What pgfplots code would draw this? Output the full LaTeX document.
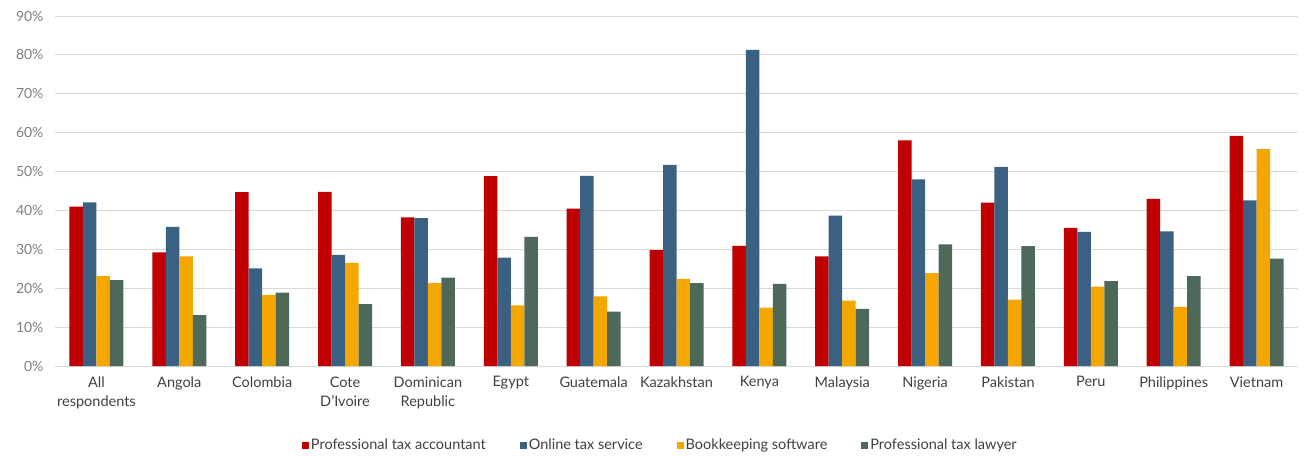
\documentclass[border=0pt]{standalone}
\usepackage{pgfplots}
\pgfplotsset{compat=1.18}
\usepackage{fontspec}
\setmainfont{Lato}
\definecolor{cRed}{HTML}{C00000}
\definecolor{cBlue}{HTML}{3B6182}
\definecolor{cOrange}{HTML}{F4A700}
\definecolor{cGreen}{HTML}{4E695A}
\definecolor{gridc}{HTML}{D9D9D9}
\definecolor{ytick}{HTML}{7F7F7F}
\definecolor{xtick}{HTML}{404040}
\begin{document}
\begin{tikzpicture}[x=1pt,y=1pt]
\path[use as bounding box] (0,0) rectangle (1310,456);
\begin{axis}[
  at={(55pt,90pt)}, anchor=south west,
  scale only axis, width=1243pt, height=350pt,
  ybar=0pt, bar width=13.5pt,
  xmin=-0.5, xmax=14.5, ymin=0, ymax=90,
  xtick=data,
  xticklabels={{All\\respondents},Angola,Colombia,{Cote\\D'Ivoire},{Dominican\\Republic},Egypt,Guatemala,Kazakhstan,Kenya,Malaysia,Nigeria,Pakistan,Peru,Philippines,Vietnam},
  xticklabel style={align=center, font=\fontsize{14.5}{19.5}\selectfont, text=xtick, yshift=-7pt},
  ytick={0,10,...,90},
  yticklabel={\pgfmathprintnumber{\tick}\%},
  /pgf/number format/assume math mode=true,
  yticklabel style={font=\fontsize{14}{16}\selectfont, text=ytick, xshift=-8pt},
  ymajorgrids, grid style={gridc, line width=0.8pt},
  axis x line=bottom, axis y line=left,
  x axis line style={gridc, line width=0.8pt, -},
  y axis line style={draw=none},
  major tick length=0pt,
  legend style={at={(0.487,0)}, anchor=center, yshift=-79pt, draw=none, font=\fontsize{14.5}{17}\selectfont, text=xtick, legend columns=4, /tikz/every even column/.append style={column sep=32pt}, inner sep=0pt},
  legend cell align=left,
  clip=false,
]
\addplot[fill=cRed, draw=none, legend image code/.code={\fill[cRed] (0pt,-3.5pt) rectangle (7pt,3.5pt);}] coordinates {
(0,41.0) (1,29.2) (2,44.7) (3,44.8) (4,38.2) (5,48.8) (6,40.5) (7,29.8) (8,30.9) (9,28.2) (10,58.0) (11,42.0) (12,35.5) (13,43.0) (14,59.2)};
\addplot[fill=cBlue, draw=none, legend image code/.code={\fill[cBlue] (0pt,-3.5pt) rectangle (7pt,3.5pt);}] coordinates {
(0,42.1) (1,35.8) (2,25.1) (3,28.6) (4,38.0) (5,27.9) (6,48.9) (7,51.7) (8,81.3) (9,38.7) (10,48.0) (11,51.2) (12,34.5) (13,34.6) (14,42.6)};
\addplot[fill=cOrange, draw=none, legend image code/.code={\fill[cOrange] (0pt,-3.5pt) rectangle (7pt,3.5pt);}] coordinates {
(0,23.1) (1,28.2) (2,18.2) (3,26.5) (4,21.3) (5,15.6) (6,17.9) (7,22.4) (8,15.0) (9,16.8) (10,23.9) (11,17.1) (12,20.4) (13,15.2) (14,55.8)};
\addplot[fill=cGreen, draw=none, legend image code/.code={\fill[cGreen] (0pt,-3.5pt) rectangle (7pt,3.5pt);}] coordinates {
(0,22.1) (1,13.1) (2,18.9) (3,15.9) (4,22.7) (5,33.2) (6,14.0) (7,21.3) (8,21.1) (9,14.7) (10,31.3) (11,30.8) (12,21.8) (13,23.1) (14,27.6)};
\legend{Professional tax accountant, Online tax service, Bookkeeping software, Professional tax lawyer}
\end{axis}
\end{tikzpicture}
\end{document}
